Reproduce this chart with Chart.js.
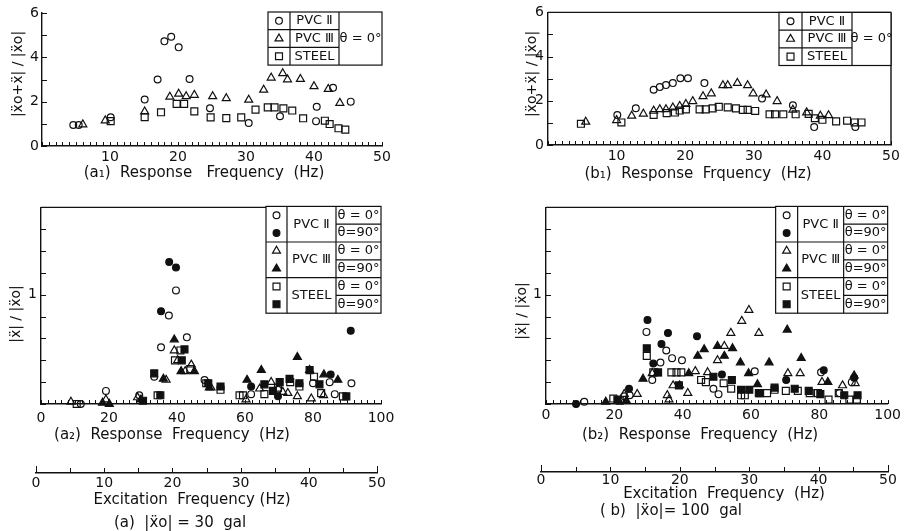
<!DOCTYPE html>
<html>
<head>
<meta charset="utf-8">
<script src="https://cdn.jsdelivr.net/npm/chart.js@4"></script>
<style>
  body { margin: 0; background: #fff; }
  #fig { position: relative; width: 904px; height: 531px; overflow: hidden;
         font-family: "DejaVu Sans", sans-serif; color: #111; }
  #fig canvas { position: absolute; }
  .cap { position: absolute; white-space: pre; transform: translate(-50%, -50%);
         font-size: 15px; line-height: 18px; }
  .ytitle { position: absolute; white-space: pre; transform: translate(-50%, -50%) rotate(-90deg);
            font-size: 14px; line-height: 16px; }
</style>
</head>
<body>
<div id="fig">
  <canvas id="a1" width="450" height="168" style="left:0;top:0"></canvas>
  <canvas id="b1" width="454" height="168" style="left:450px;top:0"></canvas>
  <canvas id="a2" width="450" height="235" style="left:0;top:195px"></canvas>
  <canvas id="b2" width="454" height="235" style="left:450px;top:195px"></canvas>
  <canvas id="exA" width="450" height="50" style="left:0;top:450px"></canvas>
  <canvas id="exB" width="454" height="50" style="left:450px;top:450px"></canvas>

  <div class="ytitle" style="left:17px;top:74px">|ẍo+ẍ| / |ẍo|</div>
  <div class="ytitle" style="left:531px;top:74px">|ẍo+ẍ| / |ẍo|</div>
  <div class="ytitle" style="left:15px;top:314px">|ẍ| / |ẍo|</div>
  <div class="ytitle" style="left:521px;top:311px">|ẍ| / |ẍo|</div>

  <div class="cap" style="left:204px;top:172px">(a₁)  Response   Frequency  (Hz)</div>
  <div class="cap" style="left:698px;top:173px">(b₁)  Response  Frquency  (Hz)</div>
  <div class="cap" style="left:172px;top:434px">(a₂)  Response  Frequency  (Hz)</div>
  <div class="cap" style="left:700px;top:434px">(b₂)  Response  Frequency  (Hz)</div>
  <div class="cap" style="left:192px;top:499px">Excitation  Frequency (Hz)</div>
  <div class="cap" style="left:180px;top:522px">(a)  |ẍo| = 30  gal</div>
  <div class="cap" style="left:724px;top:493px">Excitation  Frequency  (Hz)</div>
  <div class="cap" style="left:671px;top:510px">( b)  |ẍo|= 100  gal</div>
</div>

<script>
// values, [frequency, ratio]
const a1PvcII = [[4.6,0.95],[5.4,0.95],[10.1,1.3],[15.1,2.1],[17.0,3.0],[18.0,4.72],[19.0,4.93],[20.1,4.45],[21.7,3.02],[24.7,1.7],[30.4,1.04],[35.0,1.34],[40.4,1.77],[40.3,1.12],[42.8,2.63],[45.4,2.0]];
const a1PvcIII = [[6.0,0.97],[9.3,1.15],[15.1,1.55],[18.8,2.22],[20.1,2.35],[21.2,2.24],[22.4,2.3],[25.1,2.24],[27.1,2.15],[30.4,2.08],[32.6,2.53],[33.7,3.08],[35.4,3.28],[36.1,3.0],[38.0,3.02],[40.0,2.69],[42.1,2.57],[43.8,1.94]];
const a1Steel = [[10.1,1.12],[15.1,1.3],[17.5,1.52],[19.8,1.9],[20.9,1.9],[22.4,1.56],[24.8,1.29],[27.1,1.26],[29.3,1.29],[31.4,1.64],[33.2,1.74],[34.2,1.74],[35.5,1.7],[36.8,1.6],[38.4,1.25],[41.6,1.14],[42.3,0.99],[43.6,0.8],[44.6,0.74]];

const b1PvcII = [[10.1,1.36],[12.8,1.66],[15.4,2.5],[16.3,2.62],[17.2,2.71],[18.2,2.8],[19.3,3.02],[20.4,3.02],[22.8,2.8],[31.2,2.1],[35.7,1.8],[38.8,0.81],[44.8,0.82]];
const b1PvcIII = [[5.5,1.05],[10.0,1.12],[12.2,1.32],[13.9,1.41],[15.4,1.55],[16.3,1.61],[17.2,1.61],[18.2,1.69],[19.2,1.76],[20.1,1.85],[21.1,1.98],[22.6,2.2],[23.8,2.33],[25.5,2.7],[26.2,2.7],[27.6,2.8],[29.1,2.7],[29.9,2.33],[31.8,2.28],[33.4,1.98],[35.7,1.59],[37.7,1.47],[39.7,1.32],[40.9,1.34]];
const b1Steel = [[4.8,0.96],[10.7,1.02],[15.4,1.36],[17.3,1.44],[18.5,1.47],[19.2,1.56],[20.1,1.61],[22.1,1.61],[23.0,1.61],[24.0,1.66],[24.9,1.73],[26.2,1.7],[27.4,1.66],[28.4,1.59],[29.1,1.59],[30.2,1.54],[32.3,1.39],[33.1,1.39],[34.3,1.39],[36.1,1.39],[38.0,1.41],[38.9,1.21],[40.0,1.14],[42.0,1.07],[43.6,1.1],[44.7,1.02],[45.7,1.02]];

const a2PvcII0 = [[11.7,0.0],[19.1,0.12],[28.9,0.08],[33.3,0.25],[35.3,0.52],[37.6,0.81],[39.7,1.04],[42.9,0.61],[48.1,0.22],[61.8,0.09],[69.7,0.13],[80.0,0.19],[84.9,0.2],[86.4,0.09],[91.3,0.19]];
const a2PvcII90 = [[35.3,0.85],[37.7,1.30],[39.7,1.25],[61.8,0.16],[69.7,0.07],[85.2,0.27],[91.1,0.67]];
const a2PvcIII0 = [[8.8,0.02],[19.1,0.04],[28.4,0.06],[36.8,0.22],[39.2,0.49],[40.2,0.4],[42.4,0.3],[44.2,0.36],[50.0,0.15],[60.3,0.04],[64.3,0.14],[67.7,0.2],[71.1,0.11],[72.6,0.1],[75.4,0.07],[79.5,0.05],[83.1,0.08]];
const a2PvcIII90 = [[18.1,0.01],[20.1,0.0],[29.4,0.04],[36.0,0.23],[39.2,0.59],[41.2,0.3],[45.1,0.3],[49.5,0.15],[60.6,0.22],[64.8,0.31],[75.4,0.43],[79.0,0.31],[83.2,0.27],[87.3,0.22]];
const a2Steel0 = [[10.5,0.0],[34.3,0.08],[39.4,0.4],[41.0,0.49],[43.9,0.32],[48.6,0.19],[52.8,0.13],[58.4,0.08],[59.4,0.08],[65.7,0.09],[69.7,0.15],[73.3,0.2],[76.0,0.16],[80.3,0.25],[82.4,0.1],[88.8,0.07]];
const a2Steel90 = [[30.0,0.03],[33.3,0.28],[35.1,0.08],[41.4,0.4],[42.2,0.5],[49.2,0.19],[52.8,0.16],[65.7,0.18],[68.2,0.12],[70.2,0.2],[73.1,0.23],[76.0,0.19],[79.0,0.31],[81.9,0.18],[89.8,0.07]];

const b2PvcII0 = [[11.2,0.02],[22.9,0.07],[24.5,0.08],[29.4,0.66],[31.1,0.22],[33.5,0.38],[35.2,0.49],[36.9,0.42],[39.8,0.4],[49.0,0.14],[50.5,0.09],[61.1,0.3],[80.5,0.29],[85.9,0.1],[89.5,0.2]];
const b2PvcII90 = [[8.8,0.0],[24.3,0.14],[29.7,0.77],[31.4,0.37],[33.8,0.55],[35.7,0.65],[44.2,0.62],[51.5,0.27],[70.3,0.22],[81.3,0.31],[90.2,0.24]];
const b2PvcIII0 = [[22.9,0.09],[26.7,0.09],[31.1,0.28],[32.6,0.28],[35.5,0.08],[36.0,0.04],[37.2,0.17],[41.5,0.1],[43.7,0.3],[47.3,0.29],[50.2,0.4],[52.2,0.53],[54.1,0.65],[57.3,0.76],[59.4,0.86],[62.3,0.65],[70.8,0.28],[74.4,0.28],[80.8,0.2],[86.8,0.17],[90.5,0.19]];
const b2PvcIII90 = [[17.5,0.02],[23.5,0.03],[28.4,0.23],[39.1,0.17],[41.8,0.28],[44.4,0.44],[46.3,0.5],[50.2,0.53],[52.2,0.44],[54.6,0.51],[56.9,0.38],[59.3,0.28],[61.9,0.18],[65.3,0.38],[70.6,0.68],[74.7,0.42],[82.5,0.2],[90.2,0.26]];
const b2Steel0 = [[19.7,0.05],[21.6,0.03],[29.5,0.44],[31.4,0.29],[36.7,0.29],[38.2,0.29],[39.6,0.29],[45.4,0.22],[46.8,0.2],[52.0,0.19],[54.2,0.14],[57.1,0.08],[58.2,0.08],[62.3,0.1],[64.7,0.1],[66.9,0.13],[70.2,0.12],[73.7,0.12],[77.2,0.1],[79.6,0.1],[82.7,0.04],[85.7,0.1],[88.8,0.04],[91.0,0.04]];
const b2Steel90 = [[20.9,0.04],[29.5,0.51],[32.8,0.29],[38.9,0.17],[49.0,0.25],[54.4,0.22],[57.1,0.13],[59.5,0.13],[62.6,0.1],[66.9,0.15],[72.8,0.14],[76.9,0.12],[80.3,0.09],[87.3,0.08],[91.2,0.08]];

// tick labels
const ticks50 = [10, 20, 30, 40, 50];
const ticksRatio6 = [0, 2, 4, 6];
const ticks100 = [0, 20, 40, 60, 80, 100];
const ticksRatio2 = [1];
const ticksExc = [0, 10, 20, 30, 40, 50];

const materials = ["PVC Ⅱ", "PVC Ⅲ", "STEEL"];
const angles = ["θ = 0°", "θ=90°"];
const shapes = ["circle", "triangle", "rect"];

const ink = "#111";
const radii = { circle: 3.4, triangle: 4.6, rect: 4.9 };

Chart.defaults.font.family = '"DejaVu Sans", sans-serif';
Chart.defaults.color = ink;

function marker(ctx, shape, filled, x, y) {
  const r = radii[shape];
  ctx.beginPath();
  if (shape === "circle") {
    ctx.arc(x, y, r, 0, Math.PI * 2);
  } else if (shape === "triangle") {
    ctx.moveTo(x, y - r);
    ctx.lineTo(x + r * 0.866, y + r / 2);
    ctx.lineTo(x - r * 0.866, y + r / 2);
    ctx.closePath();
  } else {
    const s = r / Math.SQRT2;
    ctx.rect(x - s, y - s, s * 2, s * 2);
  }
  if (filled) ctx.fill();
  ctx.stroke();
}

// the boxed legend table in the upper right corner
const tableLegend = {
  id: "tableLegend",
  afterDraw(chart, args, opts) {
    if (!opts.rowsPer) return;
    const ctx = chart.ctx;
    const ca = chart.chartArea;
    const [w0, w1, w2] = opts.cols;
    const rh = opts.rowHeight;
    const n = opts.rowsPer;
    const W = w0 + w1 + w2;
    const H = rh * n * materials.length;
    const L = ca.right - W;
    const T = ca.top + (opts.dy || 0);
    const line = (x1, y1, x2, y2) => {
      ctx.beginPath(); ctx.moveTo(x1, y1); ctx.lineTo(x2, y2); ctx.stroke();
    };
    ctx.save();
    ctx.fillStyle = "#fff";
    ctx.fillRect(L, T, W, H);
    ctx.strokeStyle = ink;
    ctx.fillStyle = ink;
    ctx.lineWidth = 1.2;
    ctx.strokeRect(L, T, W, H);
    line(L + w0, T, L + w0, T + H);
    line(L + w0 + w1, T, L + w0 + w1, T + H);
    ctx.textAlign = "center";
    ctx.textBaseline = "middle";
    ctx.font = '13px "DejaVu Sans"';
    materials.forEach((m, g) => {
      const gy = T + g * n * rh;
      if (g > 0) line(L, gy, L + w0 + w1, gy);
      ctx.fillText(m, L + w0 + w1 / 2, gy + (n * rh) / 2);
      for (let k = 0; k < n; k++) {
        const cy = gy + (k + 0.5) * rh;
        marker(ctx, shapes[g], k === 1, L + w0 / 2, cy);
        if (n > 1) {
          if (g * n + k > 0) line(L + w0 + w1, gy + k * rh, L + W, gy + k * rh);
          ctx.fillText(angles[k], L + w0 + w1 + w2 / 2, cy);
        }
      }
    });
    if (n === 1) ctx.fillText(angles[0], L + w0 + w1 + w2 / 2, T + H / 2);
    ctx.restore();
  },
};

// inward tick marks and the extra frame lines (top / right) some panels have
const frame = {
  id: "frame",
  beforeDatasetsDraw(chart, args, opts) {
    const { ctx, chartArea: c } = chart;
    ctx.save();
    ctx.strokeStyle = ink;
    ctx.lineWidth = 1.4;
    ctx.beginPath();
    if (opts.top) { ctx.moveTo(c.left, c.top); ctx.lineTo(c.right, c.top); }
    if (opts.right) { ctx.moveTo(c.right, c.top); ctx.lineTo(c.right, c.bottom); }
    ctx.stroke();

    ctx.lineWidth = 1;
    ctx.beginPath();
    const sx = chart.scales.x;
    const sy = chart.scales.y;
    sx.ticks.forEach((t, i) => {
      const p = Math.round(sx.getPixelForValue(t.value)) + 0.5;
      const end = opts.endTick && (i === 0 || i === sx.ticks.length - 1);
      ctx.moveTo(p, sx.top);
      ctx.lineTo(p, sx.top - (end ? opts.endTick : opts.tickX));
    });
    if (sy.options.display) {
      sy.ticks.forEach((t) => {
        const p = Math.round(sy.getPixelForValue(t.value)) + 0.5;
        ctx.moveTo(sy.right, p);
        ctx.lineTo(sy.right + opts.tickY, p);
      });
    }
    ctx.stroke();
    ctx.restore();
  },
};

function axis(min, max, step, labels, o) {
  return {
    type: "linear",
    display: o.display !== false,
    min: min,
    max: max,
    border: { display: true, color: ink, width: 1.4 },
    grid: { display: false, drawTicks: false },
    ticks: {
      stepSize: step,
      autoSkip: false,
      maxRotation: 0,
      padding: o.pad,
      color: ink,
      font: { size: 14 },
      callback: (v) => {
        const l = labels.find((t) => Math.abs(t - v) < 1e-6);
        return l === undefined ? "" : String(l);
      },
    },
    afterFit: (s) => {
      if (s.isHorizontal()) s.height = o.size;
      else s.width = o.size;
    },
  };
}

function series(data, shape, filled) {
  return {
    data: data.map(([x, y]) => ({ x, y })),
    pointStyle: shape,
    pointRadius: radii[shape],
    pointBorderWidth: 1.2,
    pointBorderColor: ink,
    pointBackgroundColor: filled ? ink : "rgba(0,0,0,0)",
    showLine: false,
    clip: false,
  };
}

function makePlot(id, datasets, scales, padding, extra) {
  return new Chart(document.getElementById(id), {
    type: "scatter",
    data: { datasets: datasets },
    options: {
      responsive: false,
      animation: false,
      events: [],
      layout: { padding: padding },
      scales: scales,
      plugins: {
        legend: { display: false },
        tooltip: { enabled: false },
        frame: extra.frame,
        tableLegend: extra.legend || {},
      },
    },
    plugins: [frame, tableLegend],
  });
}

makePlot("a1",
  [series(a1PvcII, "circle", false), series(a1PvcIII, "triangle", false), series(a1Steel, "rect", false)],
  {
    x: axis(0, 50, 1, ticks50, { pad: 3, size: 22 }),
    y: axis(0, 6, 1, ticksRatio6, { pad: 3, size: 42 }),
  },
  { left: 0, right: 68, top: 13, bottom: 0 },
  { frame: { tickX: 4, tickY: 5 }, legend: { rowsPer: 1, cols: [22, 49, 43], rowHeight: 17.7, dy: -1 } }
);

makePlot("b1",
  [series(b1PvcII, "circle", false), series(b1PvcIII, "triangle", false), series(b1Steel, "rect", false)],
  {
    x: axis(0, 50, 1, ticks50, { pad: 3, size: 23 }),
    y: axis(0, 6, 1, ticksRatio6, { pad: 4, size: 40 }),
  },
  { left: 58, right: 13, top: 10, bottom: 0 },
  { frame: { top: true, right: true, tickX: 4, tickY: 5 }, legend: { rowsPer: 1, cols: [23, 50, 39], rowHeight: 17.7 } }
);

makePlot("a2",
  [
    series(a2PvcII0, "circle", false), series(a2PvcII90, "circle", true),
    series(a2PvcIII0, "triangle", false), series(a2PvcIII90, "triangle", true),
    series(a2Steel0, "rect", false), series(a2Steel90, "rect", true),
  ],
  {
    x: axis(0, 100, 2, ticks100, { pad: 6, size: 26 }),
    y: axis(0, 1.8, 0.2, ticksRatio2, { pad: 4, size: 41 }),
  },
  { left: 0, right: 69, top: 9, bottom: 0 },
  { frame: { top: true, tickX: 4, tickY: 5 }, legend: { rowsPer: 2, cols: [21, 49, 45], rowHeight: 17.8, dy: -1 } }
);

makePlot("b2",
  [
    series(b2PvcII0, "circle", false), series(b2PvcII90, "circle", true),
    series(b2PvcIII0, "triangle", false), series(b2PvcIII90, "triangle", true),
    series(b2Steel0, "rect", false), series(b2Steel90, "rect", true),
  ],
  {
    x: axis(0, 100, 2, ticks100, { pad: 3, size: 26 }),
    y: axis(0, 1.8, 0.2, ticksRatio2, { pad: 4, size: 40 }),
  },
  { left: 56, right: 14, top: 9, bottom: 0 },
  { frame: { top: true, tickX: 4, tickY: 5 }, legend: { rowsPer: 2, cols: [22, 46, 44], rowHeight: 17.8, dy: -1 } }
);

// stand-alone excitation frequency scales under each column
makePlot("exA", [],
  {
    x: axis(0, 50, 5, ticksExc, { pad: 2, size: 27 }),
    y: axis(0, 1, 1, [], { display: false, pad: 0, size: 0 }),
  },
  { left: 36, right: 73, top: 13, bottom: 0 },
  { frame: { tickX: 5, endTick: 7, tickY: 0 } }
);

makePlot("exB", [],
  {
    x: axis(0, 50, 5, ticksExc, { pad: 0, size: 28 }),
    y: axis(0, 1, 1, [], { display: false, pad: 0, size: 0 }),
  },
  { left: 91, right: 16, top: 12, bottom: 0 },
  { frame: { tickX: 5, endTick: 7, tickY: 0 } }
);
</script>
</body>
</html>
